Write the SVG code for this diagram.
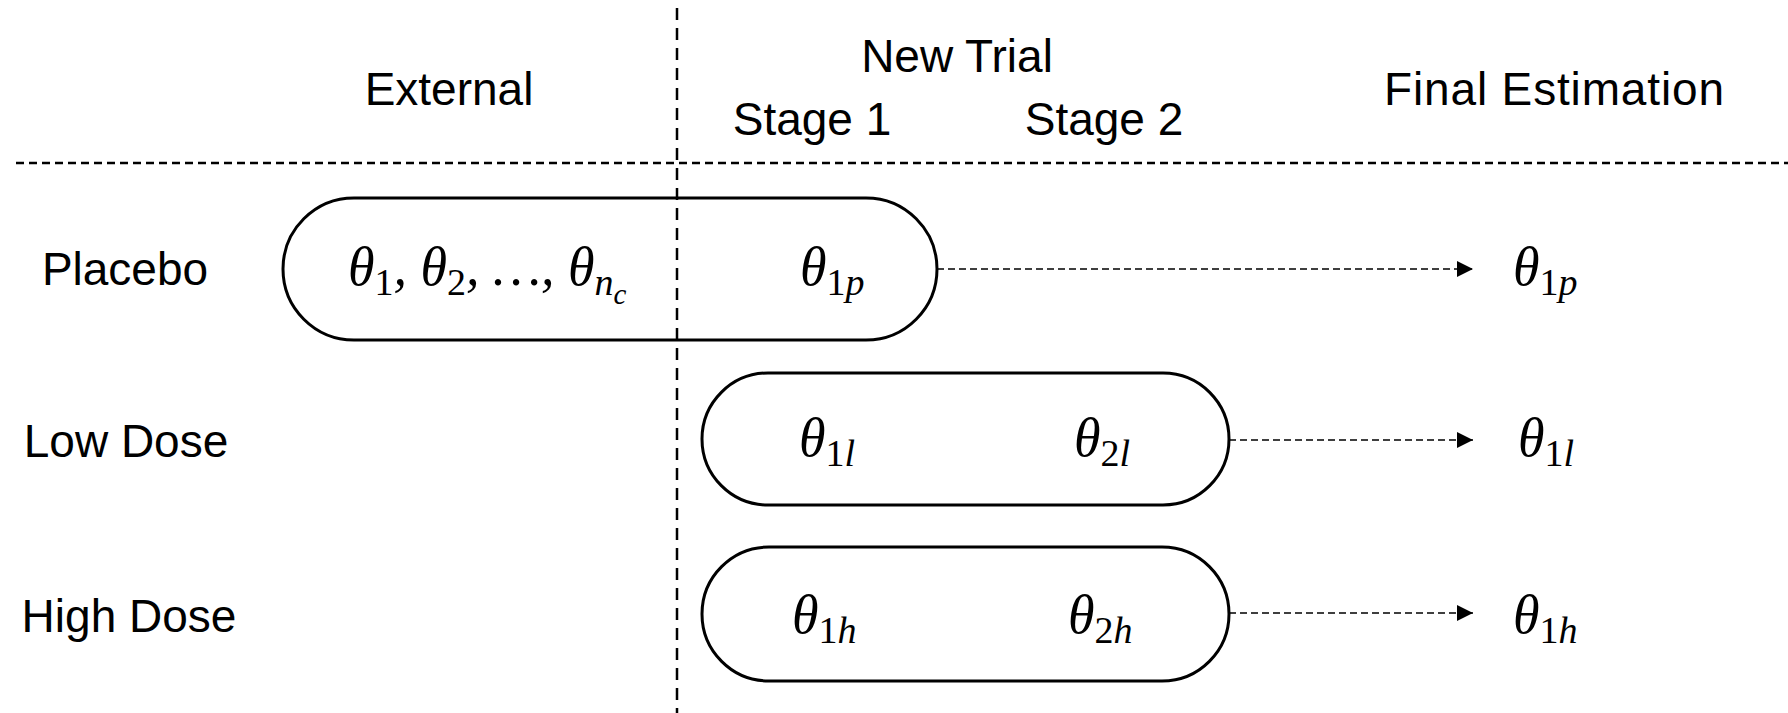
<svg xmlns="http://www.w3.org/2000/svg" width="1788" height="713" viewBox="0 0 1788 713">
<defs>
<style>
.h{font-family:"Liberation Sans",Arial,sans-serif;font-size:46px;fill:#000;text-anchor:middle}
.m{font-family:"Liberation Serif","Times New Roman",serif;font-size:54px;font-style:italic;fill:#000}
.d{font-style:normal;font-size:38px}
.s{font-size:38px}
.ss{font-size:29px}
.pill{fill:#fff;stroke:#000;stroke-width:3}
.grid{stroke:#000;stroke-width:2.5;fill:none}
.arr{stroke:#000;stroke-width:1.5;stroke-dasharray:7 4;fill:none}
</style>
<marker id="ah" viewBox="0 0 10 10" refX="10" refY="5" markerWidth="16" markerHeight="16" markerUnits="userSpaceOnUse" orient="auto">
<path d="M0,0 L10,5 L0,10 z" fill="#000"/>
</marker>
</defs>
<rect width="1788" height="713" fill="#fff"/>
<g id="headers">
<text class="h" x="449" y="105">External</text>
<text class="h" x="957" y="72">New Trial</text>
<text class="h" x="812" y="135">Stage 1</text>
<text class="h" x="1104" y="135">Stage 2</text>
<text class="h" x="1554" y="105" textLength="340">Final Estimation</text>
<text class="h" x="125" y="285">Placebo</text>
<text class="h" x="126" y="457">Low Dose</text>
<text class="h" x="129" y="632">High Dose</text>
</g>
<g id="placebo">
<rect class="pill" x="283" y="198" width="654" height="142" rx="71" ry="71"/>
<text class="m" x="348" y="285">θ<tspan class="d" dy="10">1</tspan><tspan dy="-10">, θ</tspan><tspan class="d" dy="10">2</tspan><tspan dy="-10">, …, θ</tspan><tspan class="s" dy="10">n</tspan><tspan class="ss" dy="9">c</tspan></text>
<text class="m" x="800" y="285">θ<tspan class="d" dy="10">1</tspan><tspan class="s">p</tspan></text>
</g>
<g id="low">
<rect class="pill" x="702" y="373" width="527" height="132" rx="66" ry="66"/>
<text class="m" x="799" y="456">θ<tspan class="d" dy="10">1</tspan><tspan class="s">l</tspan></text>
<text class="m" x="1074" y="456">θ<tspan class="d" dy="10">2</tspan><tspan class="s">l</tspan></text>
</g>
<g id="high">
<rect class="pill" x="702" y="547" width="527" height="134" rx="67" ry="67"/>
<text class="m" x="792" y="633">θ<tspan class="d" dy="10">1</tspan><tspan class="s">h</tspan></text>
<text class="m" x="1068" y="633">θ<tspan class="d" dy="10">2</tspan><tspan class="s">h</tspan></text>
</g>
<g id="final">
<text class="m" x="1513" y="285">θ<tspan class="d" dy="10">1</tspan><tspan class="s">p</tspan></text>
<text class="m" x="1518" y="456">θ<tspan class="d" dy="10">1</tspan><tspan class="s">l</tspan></text>
<text class="m" x="1513" y="633">θ<tspan class="d" dy="10">1</tspan><tspan class="s">h</tspan></text>
</g>
<g id="dividers">
<line class="grid" x1="16" y1="163" x2="1788" y2="163" stroke-dasharray="8 5"/>
<line class="grid" x1="677" y1="8" x2="677" y2="713" stroke-dasharray="12 8"/>
</g>
<g id="connectors">
<line class="arr" x1="937" y1="269" x2="1473" y2="269" marker-end="url(#ah)"/>
<line class="arr" x1="1229" y1="440" x2="1473" y2="440" marker-end="url(#ah)"/>
<line class="arr" x1="1229" y1="613" x2="1473" y2="613" marker-end="url(#ah)"/>
</g>
</svg>
